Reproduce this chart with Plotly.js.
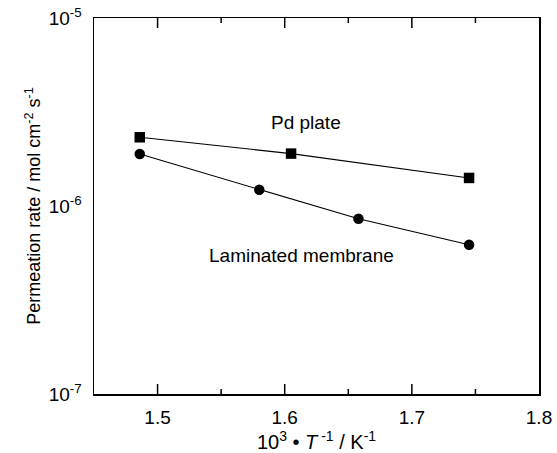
<!DOCTYPE html>
<html>
<head>
<meta charset="utf-8">
<script src="https://cdn.plot.ly/plotly-3.0.1.min.js"></script>
<style>
html,body{margin:0;padding:0;background:#fff;}
#chart{width:557px;height:453px;}
</style>
</head>
<body>
<div id="chart"></div>
<script>
// Data
const xPd = [1.486, 1.605, 1.745];
const yPd = [2.32e-6, 1.90e-6, 1.41e-6];
const xLam = [1.486, 1.580, 1.658, 1.745];
const yLam = [1.89e-6, 1.22e-6, 8.55e-7, 6.22e-7];
const yTickVals = [1e-7, 1e-6, 1e-5];
const yTickText = ['10<sup>-7</sup>', '10<sup>-6</sup>', '10<sup>-5</sup>'];
const xTickVals = [1.5, 1.6, 1.7, 1.8];
const xTickText = ['1.5', '1.6', '1.7', '1.8'];
const xMinorVals = [1.55, 1.65, 1.75];
const minorMantissas = [2, 3, 4, 5, 6, 7, 8, 9];
const minorDecades = [1e-7, 1e-6];
const yMinorVals = [];
minorDecades.forEach(function(d){ minorMantissas.forEach(function(m){ yMinorVals.push(m * d); }); });

const font = 'Liberation Sans, Arial, sans-serif';
const xRange = [1.45, 1.8];
const yRange = [-7, -5];

const traces = [
  {x: xPd, y: yPd, type: 'scatter', mode: 'lines+markers',
   line: {color: '#000', width: 1.1}, marker: {symbol: 'square', size: 10.5, color: '#000'},
   name: 'Pd plate', showlegend: false},
  {x: xLam, y: yLam, type: 'scatter', mode: 'lines+markers',
   line: {color: '#000', width: 1.1}, marker: {symbol: 'circle', size: 10.5, color: '#000'},
   name: 'Laminated membrane', showlegend: false}
];

// Tick marks pointing inward on all four sides, built from the tick arrays
const tickLine = {color: '#000', width: 1.5};
const shapes = [];
function xTick(v, len) {
  // bottom
  shapes.push({type: 'line', xref: 'x', yref: 'paper', ysizemode: 'pixel', yanchor: 0,
    x0: v, x1: v, y0: 0, y1: len, line: tickLine, layer: 'above'});
  // top
  shapes.push({type: 'line', xref: 'x', yref: 'paper', ysizemode: 'pixel', yanchor: 1,
    x0: v, x1: v, y0: -len, y1: 0, line: tickLine, layer: 'above'});
}
function yTick(v, len) {
  const lv = Math.log10(v);
  shapes.push({type: 'line', xref: 'paper', yref: 'y', xsizemode: 'pixel', xanchor: 0,
    x0: 0, x1: len, y0: lv, y1: lv, line: tickLine, layer: 'above'});
  shapes.push({type: 'line', xref: 'paper', yref: 'y', xsizemode: 'pixel', xanchor: 1,
    x0: -len, x1: 0, y0: lv, y1: lv, line: tickLine, layer: 'above'});
}
xTickVals.slice(0, 3).forEach(function(v){ xTick(v, 10); });
xMinorVals.forEach(function(v){ xTick(v, 5); });
yTickVals.slice(1, 2).forEach(function(v){ yTick(v, 10); });
yMinorVals.forEach(function(v){ yTick(v, 6); });

const layout = {
  width: 557, height: 453,
  margin: {l: 94, r: 18, t: 18, b: 59},
  paper_bgcolor: '#fff', plot_bgcolor: '#fff',
  font: {family: font, color: '#000', size: 19},
  xaxis: {
    range: xRange, tickmode: 'array', tickvals: xTickVals, ticktext: xTickText,
    ticks: '', showgrid: false, zeroline: false,
    showline: true, linewidth: 1.5, linecolor: '#000', mirror: true,
    tickfont: {size: 19, family: font}, ticklabelstandoff: 6,
    title: {text: '10<sup>3</sup> \u2022 <i>T</i><sup> -1</sup> / K<sup>-1</sup>', font: {size: 20, family: font}, standoff: 12}
  },
  yaxis: {
    type: 'log', range: yRange, tickmode: 'array', tickvals: yTickVals, ticktext: yTickText,
    ticks: '', showgrid: false, zeroline: false,
    showline: true, linewidth: 1.5, linecolor: '#000', mirror: true,
    tickfont: {size: 19, family: font}, ticklabelstandoff: 7,
    title: {text: 'Permeation rate / mol cm<sup>-2</sup> s<sup>-1</sup>', font: {size: 18, family: font}, standoff: 3}
  },
  shapes: shapes,
  annotations: [
    {x: 1.617, y: -5.557, xref: 'x', yref: 'y', text: 'Pd plate', showarrow: false, font: {size: 19, family: font, color: '#000'}},
    {x: 1.613, y: -6.265, xref: 'x', yref: 'y', text: 'Laminated membrane', showarrow: false, font: {size: 19, family: font, color: '#000'}}
  ]
};

Plotly.newPlot('chart', traces, layout, {displayModeBar: false, staticPlot: true});
</script>
</body>
</html>
